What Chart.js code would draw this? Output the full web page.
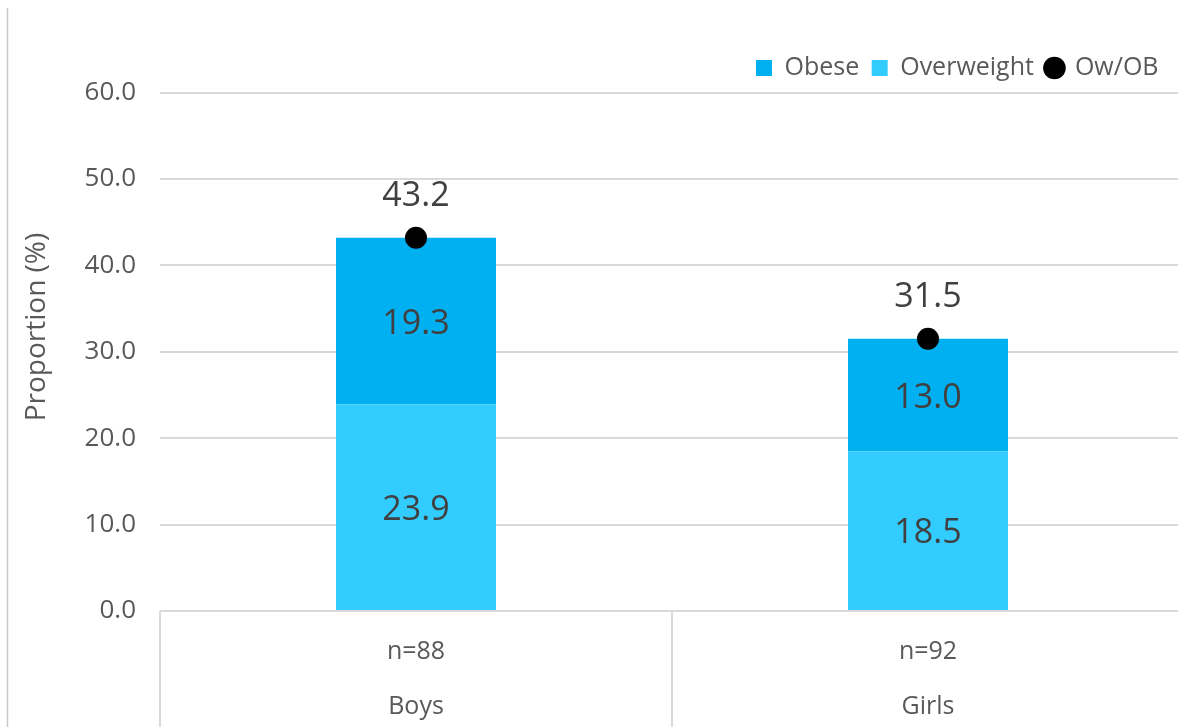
<!DOCTYPE html>
<html>
<head>
<meta charset="utf-8">
<script src="https://cdn.jsdelivr.net/npm/chart.js@4.4.1/dist/chart.umd.min.js"></script>
<style>
  html, body { margin: 0; padding: 0; background: #fff; overflow: hidden; }
  #wrap { position: relative; width: 1184px; height: 727px; }
</style>
</head>
<body>
<div id="wrap"><canvas id="chart"></canvas></div>
<script>
// ===== DATA =====
const categories = ['Boys', 'Girls'];
const sampleSizes = ['n=88', 'n=92'];
const overweight = [23.9, 18.5];
const obese = [19.3, 13.0];
const owOb = [43.2, 31.5];
const yTicks = [0, 10, 20, 30, 40, 50, 60];

const FONT = '"Open Sans", sans-serif';
const TEXT = '#595959';
const GRID = '#D9D9D9';

// ===== FRAME + AXIS DECORATION =====
const framePlugin = {
  id: 'frame',
  afterLayout(chart) {
    // nudge the legend in from the right edge and up a touch
    chart.legend.right -= 13;
    chart.legend.top -= 2;
  },
  beforeDraw(chart) {
    const ctx = chart.ctx;
    ctx.save();
    ctx.strokeStyle = '#C8C8C8';
    ctx.lineWidth = 1.5;
    ctx.beginPath();
    ctx.moveTo(7.5, 8);
    ctx.lineTo(7.5, chart.height);
    ctx.stroke();
    // y axis title
    ctx.translate(37, 327);
    ctx.rotate(-Math.PI / 2);
    ctx.fillStyle = TEXT;
    ctx.font = '28px ' + FONT;
    ctx.textAlign = 'center';
    ctx.textBaseline = 'middle';
    ctx.fillText('Proportion (%)', 0, 0);
    ctx.restore();
  },
  afterDraw(chart) {
    const x = chart.scales.x, ctx = chart.ctx;
    ctx.save();
    ctx.strokeStyle = GRID;
    ctx.lineWidth = 2;
    for (let i = 0; i <= categories.length; i++) {
      const px = Math.round(x.getPixelForValue(i - 0.5));
      ctx.beginPath();
      ctx.moveTo(px, chart.chartArea.bottom);
      ctx.lineTo(px, chart.height);
      ctx.stroke();
    }
    ctx.restore();
  }
};

// ===== VALUE LABELS =====
const valueLabels = {
  id: 'valueLabels',
  afterDatasetsDraw(chart) {
    const ctx = chart.ctx;
    ctx.save();
    ctx.fillStyle = '#404040';
    ctx.font = '34px ' + FONT;
    ctx.textAlign = 'center';
    ctx.textBaseline = 'middle';
    chart.data.datasets.forEach((ds, di) => {
      const meta = chart.getDatasetMeta(di);
      meta.data.forEach((el, i) => {
        const txt = ds.data[i].toFixed(1);
        if (ds.type === 'line') {
          ctx.fillText(txt, el.x, el.y - 41);
        } else {
          ctx.fillText(txt, el.x, (el.y + el.base) / 2 + 3);
        }
      });
    });
    ctx.restore();
  }
};

new Chart(document.getElementById('chart'), {
  type: 'bar',
  data: {
    labels: categories.map((c, i) => [sampleSizes[i], c]),
    datasets: [{
      label: 'Overweight',
      data: overweight,
      backgroundColor: '#33CCFF',
      order: 1
    }, {
      label: 'Obese',
      data: obese,
      backgroundColor: '#00B0F0',
      order: 1
    }, {
      type: 'line',
      label: 'Ow/OB',
      data: owOb,
      showLine: false,
      pointRadius: 11,
      pointHoverRadius: 11,
      pointBackgroundColor: '#000',
      pointBorderWidth: 0,
      order: 0
    }]
  },
  options: {
    responsive: true,
    maintainAspectRatio: false,
    animation: false,
    layout: { autoPadding: false, padding: { top: 45, left: 0, right: 0, bottom: 0 } },
    datasets: { bar: { barPercentage: 0.3125, categoryPercentage: 1 } },
    plugins: {
      tooltip: { enabled: false },
      legend: {
        position: 'top',
        align: 'end',
        labels: {
          usePointStyle: true,
          boxWidth: 16,
          boxHeight: 16,
          padding: 12.5,
          color: TEXT,
          font: { family: FONT, size: 25 },
          generateLabels: () => [
            { text: 'Obese', fillStyle: '#00B0F0', strokeStyle: '#00B0F0', lineWidth: 0, pointStyle: 'rect', fontColor: TEXT },
            { text: 'Overweight', fillStyle: '#33CCFF', strokeStyle: '#33CCFF', lineWidth: 0, pointStyle: 'rect', fontColor: TEXT },
            { text: 'Ow/OB', fillStyle: '#000', strokeStyle: '#000', lineWidth: 0, pointStyle: 'circle', fontColor: TEXT }
          ]
        }
      }
    },
    scales: {
      x: {
        stacked: true,
        grid: { display: false, drawTicks: false },
        border: { display: false },
        ticks: { color: TEXT, font: { family: FONT, size: 25, lineHeight: 2.2 }, padding: 13 },
        afterFit: s => { s.height = 116; s.paddingLeft = 0; s.paddingRight = 0; }
      },
      y: {
        stacked: true,
        min: 0,
        max: 60,
        afterBuildTicks: s => { s.ticks = yTicks.map(v => ({ value: v })); },
        grid: { color: GRID, lineWidth: 2, drawTicks: false },
        border: { display: false },
        ticks: { color: TEXT, font: { family: FONT, size: 26 }, padding: 24, callback: v => v.toFixed(1) },
        afterFit: s => { s.width = 160; }
      }
    }
  },
  plugins: [framePlugin, valueLabels]
});
</script>
</body>
</html>
